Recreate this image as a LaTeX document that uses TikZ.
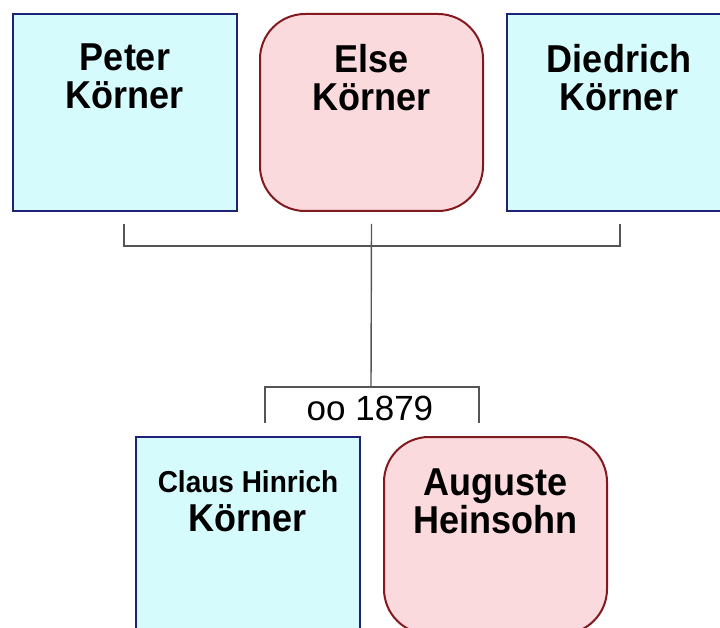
\documentclass[tikz,border=0pt]{standalone}
\usepackage{fontspec}
\setmainfont{Liberation Sans}
\usetikzlibrary{calc}

\definecolor{manfill}{RGB}{214,251,253}
\definecolor{manline}{RGB}{30,35,120}
\definecolor{womanfill}{RGB}{250,218,220}
\definecolor{womanline}{RGB}{130,25,30}
\definecolor{linkline}{RGB}{85,85,85}

% names are set slightly taller than the font's natural proportions
\newcommand\tallline[1]{\scalebox{1}[1.08]{#1}}

\tikzset{
  personbox/.style={minimum width=224pt, minimum height=197pt, line width=2pt,
                 anchor=north west, inner sep=0pt},
  manbox/.style={personbox, rectangle, draw=manline, fill=manfill},
  womanbox/.style={personbox, rectangle, rounded corners=45pt, draw=womanline, fill=womanfill},
  nametext/.style={anchor=north, align=center, inner sep=0pt,
               font=\bfseries\fontsize{36}{38}\selectfont},
  linkline/.style={draw=linkline, line width=1.4pt},
}

\begin{document}
\begin{tikzpicture}[x=1pt,y=-1pt]
\useasboundingbox (0,0) rectangle (720,628);
\clip (0,0) rectangle (720,628);

% parents' generation
\node[manbox] (peter) at (12,13) {};
\node[womanbox, minimum width=223pt] (else) at (259,13) {};
\node[manbox] (diedrich) at (506,13) {};

% couple
\node[manbox] (claus) at (135,436) {};
\node[womanbox, minimum width=223pt] (auguste) at (383,436) {};

% names
\node[nametext] (peter-name) at ($(peter.north)+(0,31)$)
  {\tallline{Peter}\\\tallline{Körner}};
\node[nametext] (else-name) at ($(else.north)+(0,31)$)
  {\tallline{Else}\\\tallline{Körner}};
\node[nametext] (diedrich-name) at ($(diedrich.north)+(0,31)$)
  {\tallline{Diedrich}\\\tallline{Körner}};
\node[nametext] (claus-name) at ($(claus.north)+(0,34)$)
  {\tallline{\fontsize{28}{30}\selectfont Claus Hinrich}\\[1pt]\tallline{Körner}};
\node[nametext, font=\bfseries\fontsize{36}{36}\selectfont] (auguste-name) at ($(auguste.north)+(0,33)$)
  {\tallline{Auguste}\\\tallline{Heinsohn}};

% sibling bracket
\coordinate (pj) at ($(peter.south)+(-1,12)$);
\coordinate (ej) at ($(else.south)+(0,12)$);
\coordinate (dj) at ($(diedrich.south)+(1,12)$);
\coordinate (sib) at ($(ej)+(0,22)$);
\draw[linkline] (pj) |- (sib) -| (dj);

% marriage bracket
\coordinate (mar) at (371,387);
\coordinate (cj) at ($(claus.north)+(17,-13)$);
\coordinate (aj) at ($(auguste.north)+(-16.5,-13)$);
\draw[linkline] (ej) -- (mar);
\draw[linkline] (cj) |- (mar) -| (aj);
\node[anchor=base, inner sep=0pt, font=\fontsize{35}{35}\selectfont] (year) at (370,420) {oo 1879};
\end{tikzpicture}
\end{document}
